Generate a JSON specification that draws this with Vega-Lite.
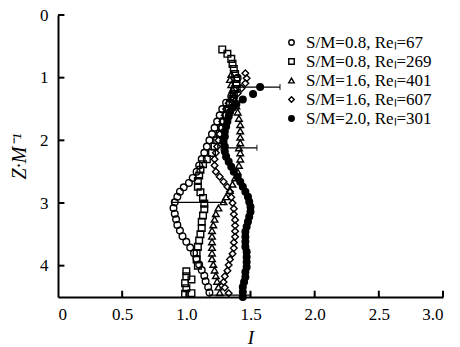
{
  "$schema": "https://vega.github.io/schema/vega-lite/v6.json",
  "width": 385,
  "height": 282,
  "autosize": {"type": "none"},
  "padding": {"left": 58, "top": 15, "right": 17, "bottom": 50},
  "background": "white",
  "config": {
    "view": {"stroke": null},
    "font": "Liberation Serif",
    "axis": {
      "domainColor": "black", "domainWidth": 2,
      "ticks": false,
      "grid": false,
      "labelFont": "Liberation Serif", "labelFontSize": 17, "labelColor": "black",
      "titleFont": "Liberation Serif", "titleFontSize": 19, "titleFontStyle": "italic", "titleFontWeight": "normal", "titleColor": "black"
    },
    "legend": {
      "labelFont": "Liberation Serif", "labelFontSize": 17, "labelColor": "black",
      "symbolSize": 30, "symbolStrokeWidth": 1.4,
      "rowPadding": 1, "labelOffset": 6
    }
  },
  "datasets": {
    "xticks": [{"v": 0.5}, {"v": 1.0}, {"v": 1.5}, {"v": 2.0}, {"v": 2.5}, {"v": 3.0}],
    "yticks": [{"v": 0}, {"v": 1}, {"v": 2}, {"v": 3}, {"v": 4}],
    "errs": [
      {"Z": 1.15, "lo": 1.42, "hi": 1.73},
      {"Z": 2.12, "lo": 1.27, "hi": 1.55},
      {"Z": 2.99, "lo": 0.89, "hi": 1.30},
      {"Z": 4.47, "lo": 1.18, "hi": 1.50}
    ],
    "pts": [
      {"s": "S/M=0.8, Reₗ=67", "Z": 1.00, "I": 1.40},
      {"s": "S/M=0.8, Reₗ=67", "Z": 1.10, "I": 1.39},
      {"s": "S/M=0.8, Reₗ=67", "Z": 1.20, "I": 1.37},
      {"s": "S/M=0.8, Reₗ=67", "Z": 1.30, "I": 1.35},
      {"s": "S/M=0.8, Reₗ=67", "Z": 1.40, "I": 1.31},
      {"s": "S/M=0.8, Reₗ=67", "Z": 1.50, "I": 1.28},
      {"s": "S/M=0.8, Reₗ=67", "Z": 1.60, "I": 1.26},
      {"s": "S/M=0.8, Reₗ=67", "Z": 1.70, "I": 1.24},
      {"s": "S/M=0.8, Reₗ=67", "Z": 1.80, "I": 1.22},
      {"s": "S/M=0.8, Reₗ=67", "Z": 1.90, "I": 1.20},
      {"s": "S/M=0.8, Reₗ=67", "Z": 2.00, "I": 1.18},
      {"s": "S/M=0.8, Reₗ=67", "Z": 2.10, "I": 1.16},
      {"s": "S/M=0.8, Reₗ=67", "Z": 2.20, "I": 1.14},
      {"s": "S/M=0.8, Reₗ=67", "Z": 2.30, "I": 1.12},
      {"s": "S/M=0.8, Reₗ=67", "Z": 2.40, "I": 1.10},
      {"s": "S/M=0.8, Reₗ=67", "Z": 2.50, "I": 1.08},
      {"s": "S/M=0.8, Reₗ=67", "Z": 2.60, "I": 1.05},
      {"s": "S/M=0.8, Reₗ=67", "Z": 2.68, "I": 1.02},
      {"s": "S/M=0.8, Reₗ=67", "Z": 2.75, "I": 0.98},
      {"s": "S/M=0.8, Reₗ=67", "Z": 2.82, "I": 0.95},
      {"s": "S/M=0.8, Reₗ=67", "Z": 2.90, "I": 0.93},
      {"s": "S/M=0.8, Reₗ=67", "Z": 2.99, "I": 0.91},
      {"s": "S/M=0.8, Reₗ=67", "Z": 3.08, "I": 0.90},
      {"s": "S/M=0.8, Reₗ=67", "Z": 3.17, "I": 0.91},
      {"s": "S/M=0.8, Reₗ=67", "Z": 3.26, "I": 0.92},
      {"s": "S/M=0.8, Reₗ=67", "Z": 3.35, "I": 0.93},
      {"s": "S/M=0.8, Reₗ=67", "Z": 3.44, "I": 0.95},
      {"s": "S/M=0.8, Reₗ=67", "Z": 3.53, "I": 0.97},
      {"s": "S/M=0.8, Reₗ=67", "Z": 3.62, "I": 1.00},
      {"s": "S/M=0.8, Reₗ=67", "Z": 3.71, "I": 1.03},
      {"s": "S/M=0.8, Reₗ=67", "Z": 3.80, "I": 1.06},
      {"s": "S/M=0.8, Reₗ=67", "Z": 3.89, "I": 1.08},
      {"s": "S/M=0.8, Reₗ=67", "Z": 3.98, "I": 1.10},
      {"s": "S/M=0.8, Reₗ=67", "Z": 4.07, "I": 1.12},
      {"s": "S/M=0.8, Reₗ=67", "Z": 4.16, "I": 1.14},
      {"s": "S/M=0.8, Reₗ=67", "Z": 4.25, "I": 1.15},
      {"s": "S/M=0.8, Reₗ=67", "Z": 4.34, "I": 1.17},
      {"s": "S/M=0.8, Reₗ=67", "Z": 4.43, "I": 1.18},

      {"s": "S/M=0.8, Reₗ=269", "Z": 0.55, "I": 1.28},
      {"s": "S/M=0.8, Reₗ=269", "Z": 0.62, "I": 1.32},
      {"s": "S/M=0.8, Reₗ=269", "Z": 0.70, "I": 1.35},
      {"s": "S/M=0.8, Reₗ=269", "Z": 0.78, "I": 1.36},
      {"s": "S/M=0.8, Reₗ=269", "Z": 0.86, "I": 1.37},
      {"s": "S/M=0.8, Reₗ=269", "Z": 0.94, "I": 1.38},
      {"s": "S/M=0.8, Reₗ=269", "Z": 1.02, "I": 1.39},
      {"s": "S/M=0.8, Reₗ=269", "Z": 1.10, "I": 1.39},
      {"s": "S/M=0.8, Reₗ=269", "Z": 1.18, "I": 1.38},
      {"s": "S/M=0.8, Reₗ=269", "Z": 1.26, "I": 1.37},
      {"s": "S/M=0.8, Reₗ=269", "Z": 1.34, "I": 1.36},
      {"s": "S/M=0.8, Reₗ=269", "Z": 1.42, "I": 1.34},
      {"s": "S/M=0.8, Reₗ=269", "Z": 1.50, "I": 1.32},
      {"s": "S/M=0.8, Reₗ=269", "Z": 1.60, "I": 1.31},
      {"s": "S/M=0.8, Reₗ=269", "Z": 1.70, "I": 1.29},
      {"s": "S/M=0.8, Reₗ=269", "Z": 1.80, "I": 1.28},
      {"s": "S/M=0.8, Reₗ=269", "Z": 1.90, "I": 1.26},
      {"s": "S/M=0.8, Reₗ=269", "Z": 2.00, "I": 1.24},
      {"s": "S/M=0.8, Reₗ=269", "Z": 2.10, "I": 1.22},
      {"s": "S/M=0.8, Reₗ=269", "Z": 2.20, "I": 1.20},
      {"s": "S/M=0.8, Reₗ=269", "Z": 2.30, "I": 1.16},
      {"s": "S/M=0.8, Reₗ=269", "Z": 2.38, "I": 1.13},
      {"s": "S/M=0.8, Reₗ=269", "Z": 2.47, "I": 1.11},
      {"s": "S/M=0.8, Reₗ=269", "Z": 2.56, "I": 1.10},
      {"s": "S/M=0.8, Reₗ=269", "Z": 2.65, "I": 1.09},
      {"s": "S/M=0.8, Reₗ=269", "Z": 2.74, "I": 1.09},
      {"s": "S/M=0.8, Reₗ=269", "Z": 2.83, "I": 1.11},
      {"s": "S/M=0.8, Reₗ=269", "Z": 2.92, "I": 1.13},
      {"s": "S/M=0.8, Reₗ=269", "Z": 3.01, "I": 1.14},
      {"s": "S/M=0.8, Reₗ=269", "Z": 3.10, "I": 1.14},
      {"s": "S/M=0.8, Reₗ=269", "Z": 3.20, "I": 1.13},
      {"s": "S/M=0.8, Reₗ=269", "Z": 3.30, "I": 1.12},
      {"s": "S/M=0.8, Reₗ=269", "Z": 3.40, "I": 1.12},
      {"s": "S/M=0.8, Reₗ=269", "Z": 3.50, "I": 1.11},
      {"s": "S/M=0.8, Reₗ=269", "Z": 3.60, "I": 1.10},
      {"s": "S/M=0.8, Reₗ=269", "Z": 3.70, "I": 1.09},
      {"s": "S/M=0.8, Reₗ=269", "Z": 3.80, "I": 1.08},
      {"s": "S/M=0.8, Reₗ=269", "Z": 3.90, "I": 1.08},
      {"s": "S/M=0.8, Reₗ=269", "Z": 4.00, "I": 1.09},
      {"s": "S/M=0.8, Reₗ=269", "Z": 4.09, "I": 1.00},
      {"s": "S/M=0.8, Reₗ=269", "Z": 4.17, "I": 1.00},
      {"s": "S/M=0.8, Reₗ=269", "Z": 4.22, "I": 1.04},
      {"s": "S/M=0.8, Reₗ=269", "Z": 4.28, "I": 0.99},
      {"s": "S/M=0.8, Reₗ=269", "Z": 4.36, "I": 1.00},
      {"s": "S/M=0.8, Reₗ=269", "Z": 4.44, "I": 1.04},
      {"s": "S/M=0.8, Reₗ=269", "Z": 4.45, "I": 0.99},

      {"s": "S/M=1.6, Reₗ=401", "Z": 0.95, "I": 1.35},
      {"s": "S/M=1.6, Reₗ=401", "Z": 1.03, "I": 1.34},
      {"s": "S/M=1.6, Reₗ=401", "Z": 1.11, "I": 1.35},
      {"s": "S/M=1.6, Reₗ=401", "Z": 1.19, "I": 1.36},
      {"s": "S/M=1.6, Reₗ=401", "Z": 1.27, "I": 1.37},
      {"s": "S/M=1.6, Reₗ=401", "Z": 1.35, "I": 1.38},
      {"s": "S/M=1.6, Reₗ=401", "Z": 1.45, "I": 1.39},
      {"s": "S/M=1.6, Reₗ=401", "Z": 1.55, "I": 1.40},
      {"s": "S/M=1.6, Reₗ=401", "Z": 1.65, "I": 1.41},
      {"s": "S/M=1.6, Reₗ=401", "Z": 1.75, "I": 1.42},
      {"s": "S/M=1.6, Reₗ=401", "Z": 1.85, "I": 1.42},
      {"s": "S/M=1.6, Reₗ=401", "Z": 1.95, "I": 1.42},
      {"s": "S/M=1.6, Reₗ=401", "Z": 2.04, "I": 1.42},
      {"s": "S/M=1.6, Reₗ=401", "Z": 2.12, "I": 1.41},
      {"s": "S/M=1.6, Reₗ=401", "Z": 2.20, "I": 1.42},
      {"s": "S/M=1.6, Reₗ=401", "Z": 2.30, "I": 1.42},
      {"s": "S/M=1.6, Reₗ=401", "Z": 2.40, "I": 1.41},
      {"s": "S/M=1.6, Reₗ=401", "Z": 2.50, "I": 1.40},
      {"s": "S/M=1.6, Reₗ=401", "Z": 2.60, "I": 1.38},
      {"s": "S/M=1.6, Reₗ=401", "Z": 2.70, "I": 1.36},
      {"s": "S/M=1.6, Reₗ=401", "Z": 2.80, "I": 1.34},
      {"s": "S/M=1.6, Reₗ=401", "Z": 2.90, "I": 1.31},
      {"s": "S/M=1.6, Reₗ=401", "Z": 2.98, "I": 1.29},
      {"s": "S/M=1.6, Reₗ=401", "Z": 3.08, "I": 1.25},
      {"s": "S/M=1.6, Reₗ=401", "Z": 3.17, "I": 1.23},
      {"s": "S/M=1.6, Reₗ=401", "Z": 3.26, "I": 1.22},
      {"s": "S/M=1.6, Reₗ=401", "Z": 3.35, "I": 1.21},
      {"s": "S/M=1.6, Reₗ=401", "Z": 3.44, "I": 1.20},
      {"s": "S/M=1.6, Reₗ=401", "Z": 3.53, "I": 1.20},
      {"s": "S/M=1.6, Reₗ=401", "Z": 3.62, "I": 1.20},
      {"s": "S/M=1.6, Reₗ=401", "Z": 3.71, "I": 1.20},
      {"s": "S/M=1.6, Reₗ=401", "Z": 3.80, "I": 1.20},
      {"s": "S/M=1.6, Reₗ=401", "Z": 3.89, "I": 1.20},
      {"s": "S/M=1.6, Reₗ=401", "Z": 3.98, "I": 1.21},
      {"s": "S/M=1.6, Reₗ=401", "Z": 4.07, "I": 1.22},
      {"s": "S/M=1.6, Reₗ=401", "Z": 4.16, "I": 1.23},
      {"s": "S/M=1.6, Reₗ=401", "Z": 4.25, "I": 1.24},
      {"s": "S/M=1.6, Reₗ=401", "Z": 4.34, "I": 1.25},
      {"s": "S/M=1.6, Reₗ=401", "Z": 4.43, "I": 1.26},

      {"s": "S/M=1.6, Reₗ=607", "Z": 0.93, "I": 1.46},
      {"s": "S/M=1.6, Reₗ=607", "Z": 1.01, "I": 1.47},
      {"s": "S/M=1.6, Reₗ=607", "Z": 1.09, "I": 1.46},
      {"s": "S/M=1.6, Reₗ=607", "Z": 1.17, "I": 1.43},
      {"s": "S/M=1.6, Reₗ=607", "Z": 1.25, "I": 1.40},
      {"s": "S/M=1.6, Reₗ=607", "Z": 1.33, "I": 1.37},
      {"s": "S/M=1.6, Reₗ=607", "Z": 1.41, "I": 1.33},
      {"s": "S/M=1.6, Reₗ=607", "Z": 1.50, "I": 1.31},
      {"s": "S/M=1.6, Reₗ=607", "Z": 1.60, "I": 1.30},
      {"s": "S/M=1.6, Reₗ=607", "Z": 1.70, "I": 1.28},
      {"s": "S/M=1.6, Reₗ=607", "Z": 1.80, "I": 1.27},
      {"s": "S/M=1.6, Reₗ=607", "Z": 1.90, "I": 1.26},
      {"s": "S/M=1.6, Reₗ=607", "Z": 2.00, "I": 1.25},
      {"s": "S/M=1.6, Reₗ=607", "Z": 2.10, "I": 1.24},
      {"s": "S/M=1.6, Reₗ=607", "Z": 2.20, "I": 1.23},
      {"s": "S/M=1.6, Reₗ=607", "Z": 2.30, "I": 1.22},
      {"s": "S/M=1.6, Reₗ=607", "Z": 2.40, "I": 1.22},
      {"s": "S/M=1.6, Reₗ=607", "Z": 2.50, "I": 1.23},
      {"s": "S/M=1.6, Reₗ=607", "Z": 2.58, "I": 1.26},
      {"s": "S/M=1.6, Reₗ=607", "Z": 2.66, "I": 1.29},
      {"s": "S/M=1.6, Reₗ=607", "Z": 2.74, "I": 1.32},
      {"s": "S/M=1.6, Reₗ=607", "Z": 2.82, "I": 1.34},
      {"s": "S/M=1.6, Reₗ=607", "Z": 2.91, "I": 1.35},
      {"s": "S/M=1.6, Reₗ=607", "Z": 3.00, "I": 1.36},
      {"s": "S/M=1.6, Reₗ=607", "Z": 3.09, "I": 1.37},
      {"s": "S/M=1.6, Reₗ=607", "Z": 3.18, "I": 1.37},
      {"s": "S/M=1.6, Reₗ=607", "Z": 3.27, "I": 1.38},
      {"s": "S/M=1.6, Reₗ=607", "Z": 3.36, "I": 1.38},
      {"s": "S/M=1.6, Reₗ=607", "Z": 3.45, "I": 1.38},
      {"s": "S/M=1.6, Reₗ=607", "Z": 3.54, "I": 1.38},
      {"s": "S/M=1.6, Reₗ=607", "Z": 3.63, "I": 1.37},
      {"s": "S/M=1.6, Reₗ=607", "Z": 3.72, "I": 1.37},
      {"s": "S/M=1.6, Reₗ=607", "Z": 3.81, "I": 1.36},
      {"s": "S/M=1.6, Reₗ=607", "Z": 3.90, "I": 1.34},
      {"s": "S/M=1.6, Reₗ=607", "Z": 3.99, "I": 1.33},
      {"s": "S/M=1.6, Reₗ=607", "Z": 4.08, "I": 1.32},
      {"s": "S/M=1.6, Reₗ=607", "Z": 4.17, "I": 1.30},
      {"s": "S/M=1.6, Reₗ=607", "Z": 4.26, "I": 1.29},
      {"s": "S/M=1.6, Reₗ=607", "Z": 4.35, "I": 1.30},
      {"s": "S/M=1.6, Reₗ=607", "Z": 4.44, "I": 1.33},

      {"s": "S/M=2.0, Reₗ=301", "Z": 1.15, "I": 1.575},
      {"s": "S/M=2.0, Reₗ=301", "Z": 1.26, "I": 1.52},
      {"s": "S/M=2.0, Reₗ=301", "Z": 1.35, "I": 1.44},
      {"s": "S/M=2.0, Reₗ=301", "Z": 1.42, "I": 1.39},
      {"s": "S/M=2.0, Reₗ=301", "Z": 1.48, "I": 1.36},
      {"s": "S/M=2.0, Reₗ=301", "Z": 1.55, "I": 1.34},
      {"s": "S/M=2.0, Reₗ=301", "Z": 1.62, "I": 1.33},
      {"s": "S/M=2.0, Reₗ=301", "Z": 1.70, "I": 1.32},
      {"s": "S/M=2.0, Reₗ=301", "Z": 1.78, "I": 1.31},
      {"s": "S/M=2.0, Reₗ=301", "Z": 1.86, "I": 1.30},
      {"s": "S/M=2.0, Reₗ=301", "Z": 1.94, "I": 1.30},
      {"s": "S/M=2.0, Reₗ=301", "Z": 2.02, "I": 1.29},
      {"s": "S/M=2.0, Reₗ=301", "Z": 2.10, "I": 1.30},
      {"s": "S/M=2.0, Reₗ=301", "Z": 2.18, "I": 1.30},
      {"s": "S/M=2.0, Reₗ=301", "Z": 2.26, "I": 1.31},
      {"s": "S/M=2.0, Reₗ=301", "Z": 2.34, "I": 1.33},
      {"s": "S/M=2.0, Reₗ=301", "Z": 2.42, "I": 1.35},
      {"s": "S/M=2.0, Reₗ=301", "Z": 2.50, "I": 1.37},
      {"s": "S/M=2.0, Reₗ=301", "Z": 2.58, "I": 1.40},
      {"s": "S/M=2.0, Reₗ=301", "Z": 2.66, "I": 1.42},
      {"s": "S/M=2.0, Reₗ=301", "Z": 2.74, "I": 1.44},
      {"s": "S/M=2.0, Reₗ=301", "Z": 2.82, "I": 1.46},
      {"s": "S/M=2.0, Reₗ=301", "Z": 2.90, "I": 1.48},
      {"s": "S/M=2.0, Reₗ=301", "Z": 2.98, "I": 1.49},
      {"s": "S/M=2.0, Reₗ=301", "Z": 3.06, "I": 1.50},
      {"s": "S/M=2.0, Reₗ=301", "Z": 3.14, "I": 1.50},
      {"s": "S/M=2.0, Reₗ=301", "Z": 3.22, "I": 1.49},
      {"s": "S/M=2.0, Reₗ=301", "Z": 3.30, "I": 1.48},
      {"s": "S/M=2.0, Reₗ=301", "Z": 3.38, "I": 1.47},
      {"s": "S/M=2.0, Reₗ=301", "Z": 3.46, "I": 1.46},
      {"s": "S/M=2.0, Reₗ=301", "Z": 3.54, "I": 1.46},
      {"s": "S/M=2.0, Reₗ=301", "Z": 3.62, "I": 1.46},
      {"s": "S/M=2.0, Reₗ=301", "Z": 3.70, "I": 1.46},
      {"s": "S/M=2.0, Reₗ=301", "Z": 3.78, "I": 1.47},
      {"s": "S/M=2.0, Reₗ=301", "Z": 3.86, "I": 1.47},
      {"s": "S/M=2.0, Reₗ=301", "Z": 3.94, "I": 1.47},
      {"s": "S/M=2.0, Reₗ=301", "Z": 4.02, "I": 1.47},
      {"s": "S/M=2.0, Reₗ=301", "Z": 4.10, "I": 1.46},
      {"s": "S/M=2.0, Reₗ=301", "Z": 4.18, "I": 1.46},
      {"s": "S/M=2.0, Reₗ=301", "Z": 4.26, "I": 1.45},
      {"s": "S/M=2.0, Reₗ=301", "Z": 4.34, "I": 1.44},
      {"s": "S/M=2.0, Reₗ=301", "Z": 4.42, "I": 1.44},
      {"s": "S/M=2.0, Reₗ=301", "Z": 4.50, "I": 1.44}
    ]
  },
  "layer": [
    {
      "data": {"name": "xticks"},
      "mark": {"type": "rule", "color": "black", "strokeWidth": 2},
      "encoding": {
        "x": {"field": "v", "type": "quantitative", "scale": {"domain": [0, 3], "nice": false}},
        "y": {"datum": 4.5, "type": "quantitative", "scale": {"domain": [0, 4.5], "nice": false, "reverse": true}},
        "y2": {"datum": 4.4}
      }
    },
    {
      "data": {"name": "yticks"},
      "mark": {"type": "rule", "color": "black", "strokeWidth": 2},
      "encoding": {
        "y": {"field": "v", "type": "quantitative"},
        "x": {"datum": 0, "type": "quantitative"},
        "x2": {"datum": 0.05}
      }
    },
    {
      "data": {"name": "errs"},
      "mark": {"type": "rule", "color": "black", "strokeWidth": 1.3},
      "encoding": {
        "x": {"field": "lo", "type": "quantitative"},
        "x2": {"field": "hi"},
        "y": {"field": "Z", "type": "quantitative"}
      }
    },
    {
      "data": {"name": "errs"},
      "mark": {"type": "tick", "orient": "vertical", "color": "black", "size": 6, "thickness": 1.3},
      "encoding": {
        "x": {"field": "hi", "type": "quantitative"},
        "y": {"field": "Z", "type": "quantitative"}
      }
    },
    {
      "data": {"name": "errs"},
      "mark": {"type": "tick", "orient": "vertical", "color": "black", "size": 6, "thickness": 1.3},
      "encoding": {
        "x": {"field": "lo", "type": "quantitative"},
        "y": {"field": "Z", "type": "quantitative"}
      }
    },
    {
      "data": {"name": "pts"},
      "mark": {"type": "point", "filled": true, "strokeWidth": 1.4, "opacity": 1, "size": 44},
      "encoding": {
        "x": {
          "field": "I", "type": "quantitative",
          "axis": {"title": "I", "values": [0, 0.5, 1, 1.5, 2, 2.5, 3], "labelExpr": "datum.value == 0 ? '0' : format(datum.value, '.1f')", "labelPadding": 9, "titlePadding": 6}
        },
        "y": {
          "field": "Z", "type": "quantitative",
          "axis": {"title": "Z·M⁻¹", "values": [0, 1, 2, 3, 4], "format": "d", "labelPadding": 10, "titlePadding": 10, "titleFontSize": 20}
        },
        "shape": {
          "field": "s", "type": "nominal",
          "scale": {
            "domain": ["S/M=0.8, Reₗ=67", "S/M=0.8, Reₗ=269", "S/M=1.6, Reₗ=401", "S/M=1.6, Reₗ=607", "S/M=2.0, Reₗ=301"],
            "range": ["circle", "square", "triangle-up", "diamond", "circle"]
          },
          "legend": {"title": null, "orient": "none", "legendX": 225, "legendY": 19}
        },
        "fill": {
          "field": "s", "type": "nominal",
          "scale": {
            "domain": ["S/M=0.8, Reₗ=67", "S/M=0.8, Reₗ=269", "S/M=1.6, Reₗ=401", "S/M=1.6, Reₗ=607", "S/M=2.0, Reₗ=301"],
            "range": ["transparent", "transparent", "transparent", "transparent", "black"]
          },
          "legend": {"title": null, "orient": "none", "legendX": 225, "legendY": 19}
        },
        "stroke": {
          "field": "s", "type": "nominal",
          "scale": {
            "domain": ["S/M=0.8, Reₗ=67", "S/M=0.8, Reₗ=269", "S/M=1.6, Reₗ=401", "S/M=1.6, Reₗ=607", "S/M=2.0, Reₗ=301"],
            "range": ["black", "black", "black", "black", "black"]
          },
          "legend": {"title": null, "orient": "none", "legendX": 225, "legendY": 19}
        }
      }
    }
  ]
}
